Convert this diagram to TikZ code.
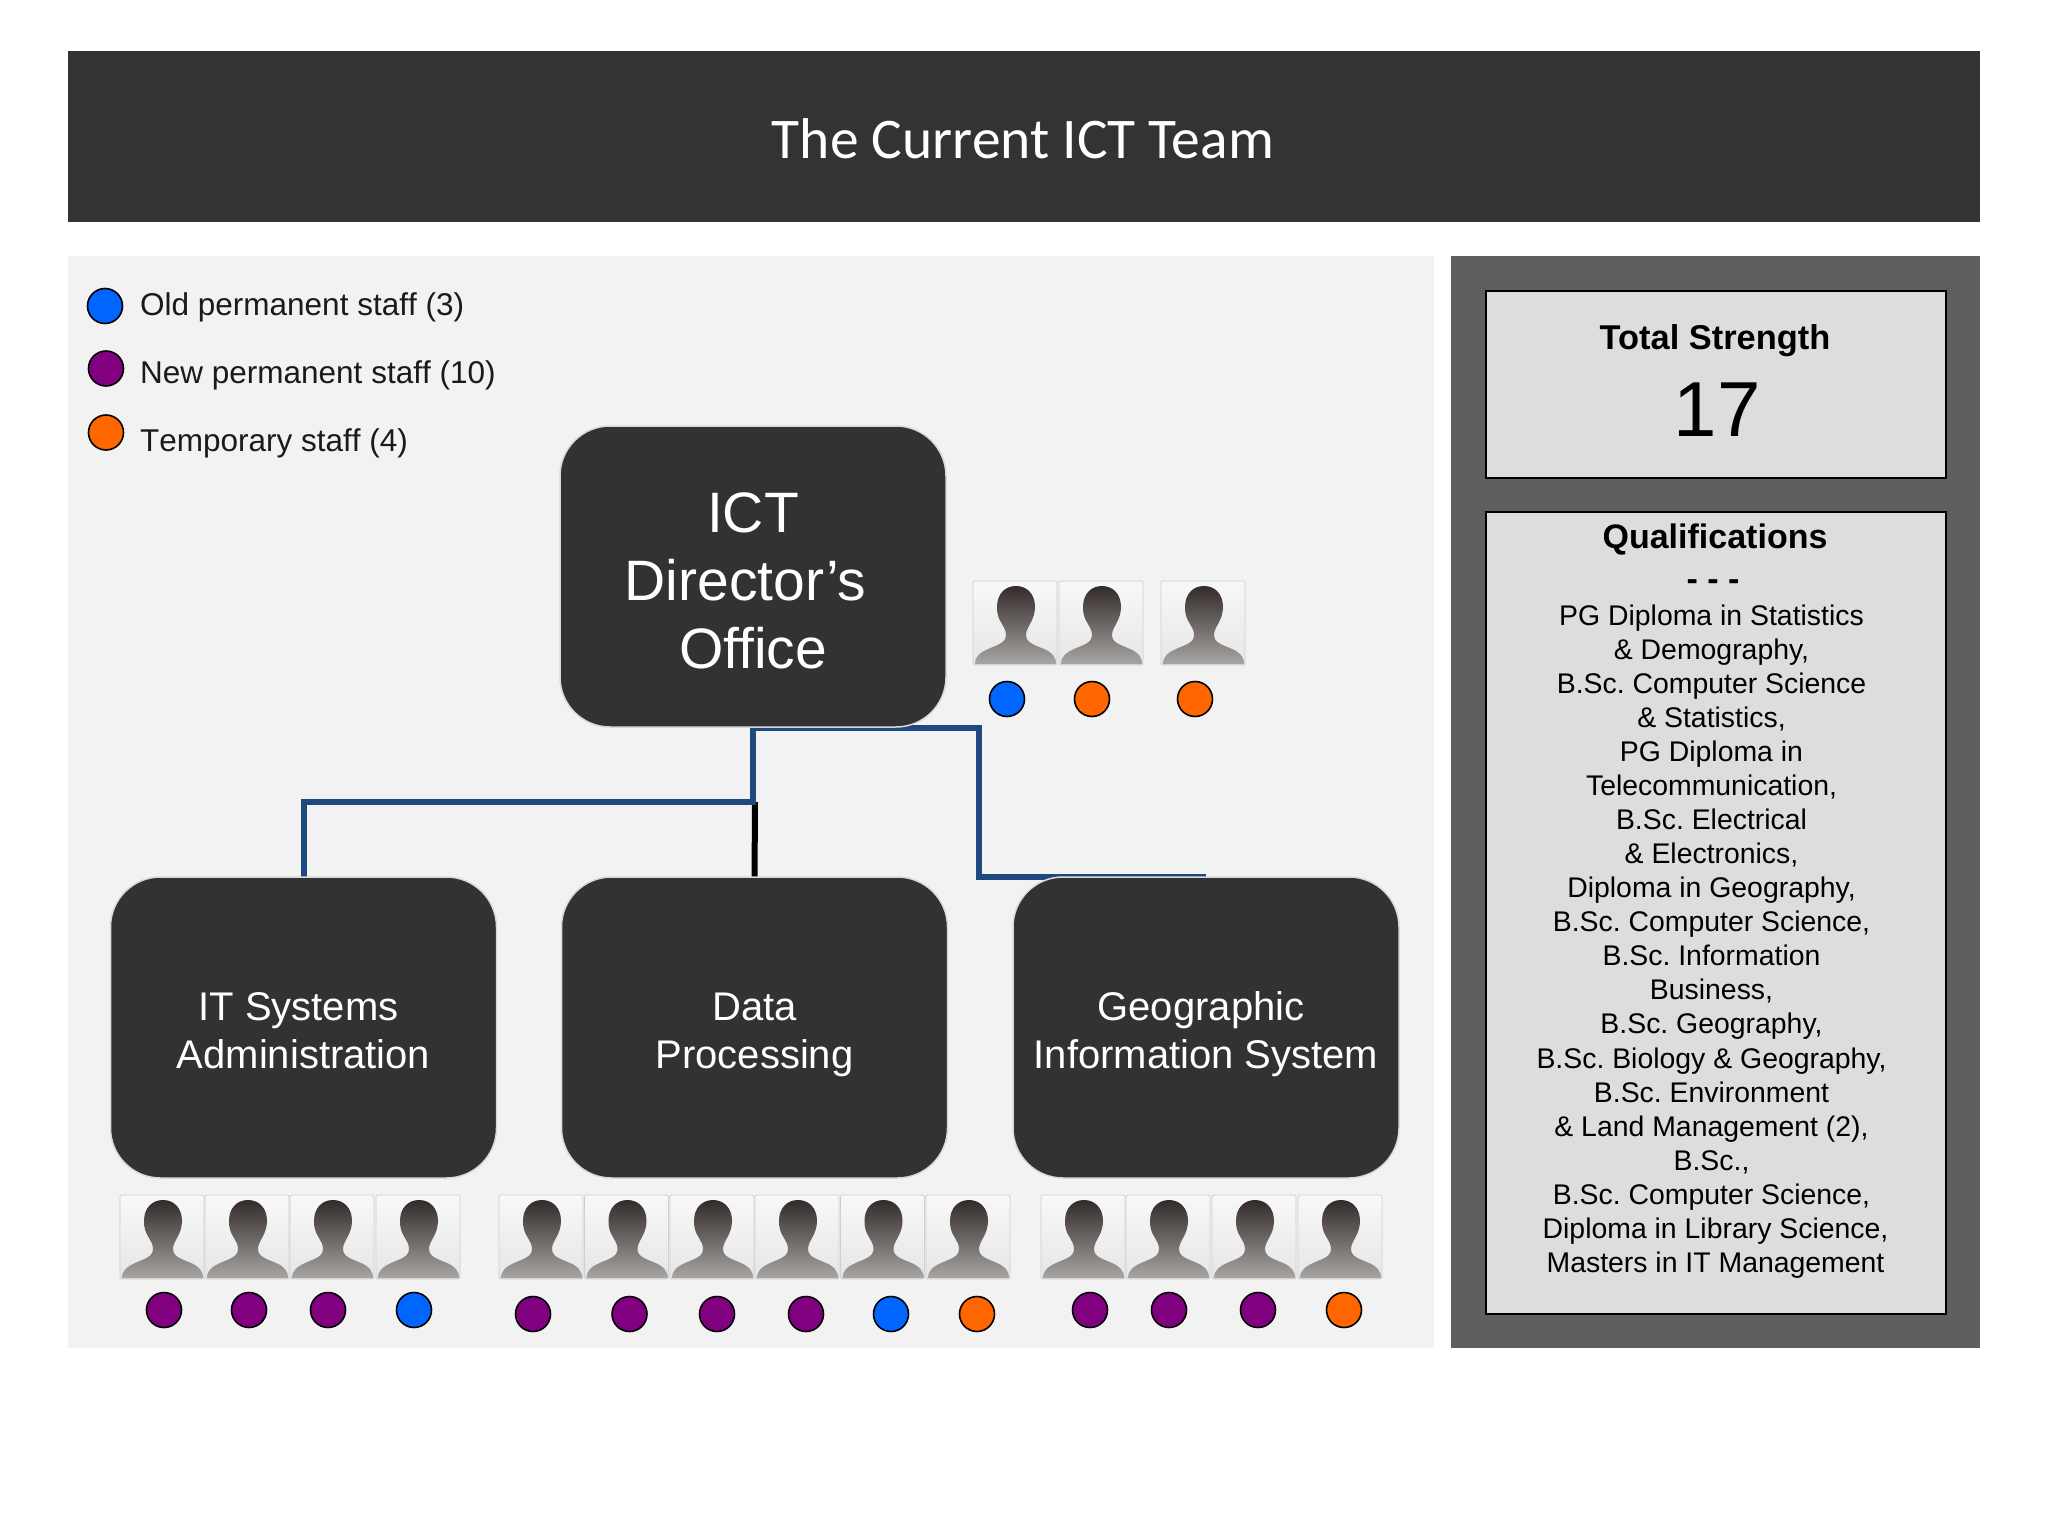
\documentclass[tikz,border=0pt]{standalone}
\usepackage{fontspec}
\setmainfont{Liberation Sans}
\newfontfamily\carlitofont{Carlito}
\definecolor{banner}{HTML}{333333}
\definecolor{boxdark}{HTML}{333132}
\definecolor{leftpanel}{HTML}{F2F2F3}
\definecolor{rightpanel}{HTML}{5F5E60}
\definecolor{innerbox}{HTML}{DEDCDD}
\definecolor{linkblue}{HTML}{1F497D}
\definecolor{oldblue}{HTML}{0066FF}
\definecolor{newpurple}{HTML}{800080}
\definecolor{temporange}{HTML}{FF6600}
\definecolor{textdark}{HTML}{1A1A1A}
\definecolor{thumbtop}{HTML}{F8F8F8}
\definecolor{thumbmid}{HTML}{DEDEDE}
\definecolor{thumbbot}{HTML}{E6E6E6}
\definecolor{thumbedge}{HTML}{CFCFCF}
\definecolor{headtop}{HTML}{332B2B}
\definecolor{headmid}{HTML}{4A4442}
\definecolor{headbot}{HTML}{A8A5A2}
\newcommand{\topfill}[1]{\rule{0pt}{#1}}
\newcommand{\botfill}{\rule[-9pt]{0pt}{9pt}}
\tikzset{
  x=1pt,y=-1pt,
  panelbox/.style={draw=none,inner sep=0pt,outer sep=0pt},
  darkbox/.style={draw=black!15,line width=1.5pt,fill=boxdark,rounded corners=50pt,text=white,
    minimum width=386pt,minimum height=301pt,inner sep=0pt,align=center},
  infobox/.style={draw=black,line width=2pt,fill=innerbox,inner sep=0pt},
  staffdot/.style={circle,draw=black,line width=1.6pt,minimum size=35pt,inner sep=0pt},
  linkline/.style={draw=linkblue,line width=6pt,line join=miter},
  legendtext/.style={anchor=base west,inner sep=0pt,text=textdark,font=\addfontfeatures{Kerning=Off}\fontsize{31.5}{36}\selectfont},
  person/.pic={
    \draw[draw=thumbedge,line width=0.9pt,top color=thumbtop,middle color=thumbmid,bottom color=thumbbot,rounded corners=1.5pt]
      (0,0) rectangle (84,84);
    \shade[top color=headtop,middle color=headmid,bottom color=headbot]
      (2,83) .. controls (2,75) and (8,71) .. (15,68)
      .. controls (24,64) and (33,62) .. (33,54)
      .. controls (33,49) and (31,47) .. (29,43)
      .. controls (25,37) and (24,32) .. (24,26)
      .. controls (24,13) and (32,5) .. (43,5)
      .. controls (54,5) and (62,13) .. (62,26)
      .. controls (62,32) and (60,38) .. (57,43)
      .. controls (55,47) and (53,50) .. (53,54)
      .. controls (53,62) and (62,64) .. (71,68)
      .. controls (78,71) and (83,75) .. (83,83) -- cycle;
  }
}
\begin{document}
\begin{tikzpicture}
\frenchspacing
\useasboundingbox (0,0) rectangle (2048,1536);
\fill[white] (0,0) rectangle (2048,1536);
% panels
\node[panelbox,fill=banner,anchor=north west,minimum width=1912pt,minimum height=171pt] (banner) at (68,51) {};
\node[anchor=base,inner sep=0pt,text=white,font=\carlitofont\fontsize{57.5}{62}\selectfont] (title) at (1023,158) {The Current ICT Team};
\node[panelbox,fill=leftpanel,anchor=north west,minimum width=1366pt,minimum height=1092pt] (left) at (68,256) {};
\node[panelbox,fill=rightpanel,anchor=north west,minimum width=529pt,minimum height=1092pt] (right) at (1451,256) {};
% info boxes
\node[infobox,anchor=north west,minimum width=460pt,minimum height=187pt] (total) at (1484.5,289.5) {};
\node[infobox,anchor=north west,minimum width=460pt,minimum height=802pt] (qual) at (1484.5,511) {};
\node[anchor=base,inner sep=0pt,font=\bfseries\fontsize{34.4}{40}\selectfont] (totalt) at (1715,349) {Total Strength};
\node[anchor=base,inner sep=0pt,font=\fontsize{78}{90}\selectfont] (totaln) at (1717,436) {17};
\node[anchor=base,inner sep=0pt,font=\bfseries\fontsize{34}{40}\selectfont] (qualt) at (1715,548) {Qualifications};
\node[anchor=base,inner sep=0pt,font=\bfseries\fontsize{34}{40}\selectfont] (dashes) at (1713,590) {- - -};
\node[anchor=center,inner sep=0pt,align=center,font=\fontsize{28.4}{34.05}\selectfont] (qualbody) at (1711.5,941.5) {PG Diploma in Statistics\\
\& Demography,\\
B.Sc. Computer Science\\
\& Statistics,\\
PG Diploma in\\
Telecommunication,\\
B.Sc. Electrical\\
\& Electronics,\\
Diploma in Geography,\\
B.Sc. Computer Science,\\
B.Sc. Information\\
Business,\\
B.Sc. Geography,\\
B.Sc. Biology \& Geography,\\
B.Sc. Environment\\
\& Land Management (2),\\
B.Sc.,\\
B.Sc. Computer Science,\\
\rule{8pt}{0pt}Diploma in Library Science,\\
\rule{8pt}{0pt}Masters in IT Management};
% legend
\node[staffdot,fill=oldblue] (lega) at (105,306) {};
\node[staffdot,fill=newpurple] (legb) at (106,368.5) {};
\node[staffdot,fill=temporange] (legc) at (106,432.5) {};
\node[legendtext] (legat) at (140,315) {Old permanent staff (3)};
\node[legendtext] (legbt) at (140,383) {New permanent staff (10)};
\node[legendtext] (legct) at (140,451) {Temporary staff (4)};
% junctions
\coordinate (hub) at (753,802);
\coordinate (hubtop) at (753,727.5);
\coordinate (cornerb) at (979,727.5);
\coordinate (cornerc) at (979,877);
\coordinate (geoend) at (1206,877);
\coordinate (blackend) at (755,802);
% boxes positions declared first so connectors sit behind
\coordinate (dirc) at (753,576.5);
\coordinate (itc) at (303.5,1027.5);
\coordinate (datac) at (754.5,1027.5);
\coordinate (geoc) at (1206,1027.5);
% connectors
\draw[black,line width=6pt] (blackend) -- (datac |- 0,880);
\draw[linkline] (itc |- 0,880) |- (hub) -- (hubtop) -- (cornerb) -- (cornerc) -- (geoend);
% dark boxes
\node[darkbox,font=\fontsize{57}{68}\selectfont] (dir) at (dirc) {\topfill{49pt}ICT\\Director’s\rule{15pt}{0pt}\\Office};
\node[darkbox,font=\fontsize{40}{48}\selectfont] (it) at (itc) {\topfill{42pt}IT Systems\rule{10pt}{0pt}\\Administration\botfill};
\node[darkbox,font=\fontsize{40}{48}\selectfont] (data) at (datac) {\topfill{42pt}Data\\Processing\botfill};
\node[darkbox,font=\fontsize{40}{48}\selectfont] (geo) at (geoc) {\topfill{42pt}Geographic\rule{10pt}{0pt}\\Information System\botfill};
% people
\foreach \px in {973,1059,1161} \pic at (\px,581) {person};
\foreach \px in {120,205,290,376} \pic at (\px,1195) {person};
\foreach \px in {499,584.5,670,755,840.5,926} \pic at (\px,1195) {person};
\foreach \px in {1041,1126,1212,1298} \pic at (\px,1195) {person};
% staff dots
\foreach \dx/\dy/\dc [count=\i] in {
  1007/699/oldblue,1092/699/temporange,1195/699/temporange,
  164/1310/newpurple,249/1310/newpurple,328/1310/newpurple,414/1310/oldblue,
  533/1314/newpurple,629.5/1314/newpurple,717/1314/newpurple,806/1314/newpurple,891/1314/oldblue,977/1314/temporange,
  1090/1310/newpurple,1169/1310/newpurple,1258/1310/newpurple,1344/1310/temporange}
  \node[staffdot,fill=\dc] (dot\i) at (\dx,\dy) {};
\end{tikzpicture}
\end{document}
